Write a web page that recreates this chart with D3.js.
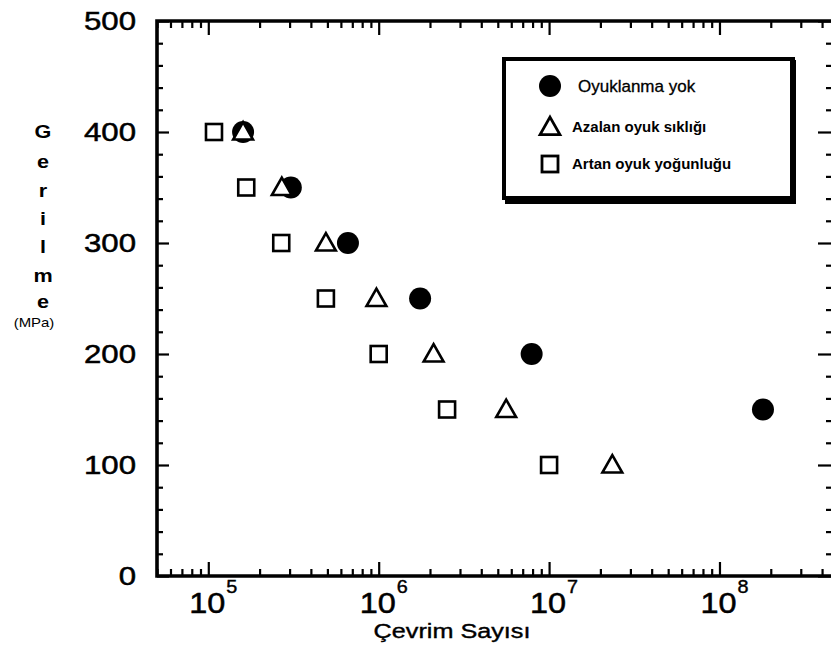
<!DOCTYPE html>
<html>
<head>
<meta charset="utf-8">
<script src="https://cdn.jsdelivr.net/npm/d3@7"></script>
<style>
  html, body { margin: 0; padding: 0; background: #fff; }
  svg { display: block; font-family: "Liberation Sans", Arial, Helvetica, sans-serif; }
</style>
</head>
<body>
<svg id="chart" width="831" height="659"></svg>
<script>
// ---- Data ----
const stressNoPit = [400, 350, 300, 250, 200, 150];
const cyclesNoPit = [1.6e5, 3.05e5, 6.6e5, 1.75e6, 7.9e6, 1.8e8];

const stressDecreasing = [400, 350, 300, 250, 200, 150, 100];
const cyclesDecreasing = [1.6e5, 2.7e5, 4.9e5, 9.7e5, 2.1e6, 5.6e6, 2.35e7];

const stressIncreasing = [400, 350, 300, 250, 200, 150, 100];
const cyclesIncreasing = [1.08e5, 1.67e5, 2.68e5, 4.9e5, 1.0e6, 2.52e6, 1.0e7];

const seriesNames = ["Oyuklanma yok", "Azalan oyuk sıklığı", "Artan oyuk yoğunluğu"];
const xTickExponents = [5, 6, 7, 8];
const yTickValues = [0, 100, 200, 300, 400, 500];
const xDomain = [5e4, 4.7e8];
const yDomain = [0, 500];
const xAxisTitle = "Çevrim Sayısı";
const yAxisTitleLetters = ["G", "e", "r", "i", "l", "m", "e"];
const yAxisUnit = "(MPa)";

// ---- Layout ----
const svg = d3.select("#chart");
const L = 157, R = 834, T = 21, B = 576;

const x = d3.scaleLog().domain(xDomain).range([L, R]);
const y = d3.scaleLinear().domain(yDomain).range([B, T]);

const xMinor = [];
for (let d = 4; d <= 8; d++) for (let k = 2; k <= 9; k++) {
  const v = k * Math.pow(10, d);
  if (v >= xDomain[0] && v <= xDomain[1]) xMinor.push(v);
}
const xMajor = xTickExponents.map(e => Math.pow(10, e));
const yMinor = d3.range(0, 501, 20).filter(v => v % 100 !== 0);

function styleAxis(g) {
  g.select(".domain").remove();
  g.selectAll(".tick line").attr("stroke", "#000").attr("stroke-width", 2.2);
  g.selectAll(".tick text").remove();
}

svg.append("g").attr("transform", `translate(0,${B})`)
  .call(d3.axisBottom(x).tickValues(xMinor).tickSize(-7).tickFormat(""))
  .call(styleAxis);
svg.append("g").attr("transform", `translate(0,${B})`)
  .call(d3.axisBottom(x).tickValues(xMajor).tickSize(-14).tickFormat(""))
  .call(styleAxis);
svg.append("g").attr("transform", `translate(0,${T})`)
  .call(d3.axisTop(x).tickValues(xMinor).tickSize(-7).tickFormat(""))
  .call(styleAxis);
svg.append("g").attr("transform", `translate(0,${T})`)
  .call(d3.axisTop(x).tickValues(xMajor).tickSize(-14).tickFormat(""))
  .call(styleAxis);
svg.append("g").attr("transform", `translate(${L},0)`)
  .call(d3.axisLeft(y).tickValues(yMinor).tickSize(-6).tickFormat(""))
  .call(styleAxis);
svg.append("g").attr("transform", `translate(${L},0)`)
  .call(d3.axisLeft(y).tickValues(yTickValues).tickSize(-12).tickFormat(""))
  .call(styleAxis);
svg.append("g").attr("transform", `translate(${R},0)`)
  .call(d3.axisRight(y).tickValues(yMinor).tickSize(-8).tickFormat(""))
  .call(styleAxis);
svg.append("g").attr("transform", `translate(${R},0)`)
  .call(d3.axisRight(y).tickValues(yTickValues).tickSize(-16).tickFormat(""))
  .call(styleAxis);

svg.append("path")
  .attr("d", `M${R},${T}H${L}V${B}H${R}`)
  .attr("fill", "none").attr("stroke", "#000").attr("stroke-width", 3.6);

// y tick labels
svg.append("g").selectAll("text").data(yTickValues).join("text")
  .attr("transform", d => `translate(136,${y(d) + 9}) scale(1.2,1)`)
  .attr("text-anchor", "end")
  .attr("font-size", 26)
  .attr("fill", "#000").attr("stroke", "#000").attr("stroke-width", 0.5)
  .text(d => d);

// x tick labels: 10^e
const xl = svg.append("g");
xTickExponents.forEach(e => {
  const cx = x(Math.pow(10, e));
  xl.append("text")
    .attr("transform", `translate(${cx - 1},613) scale(1.12,1)`)
    .attr("text-anchor", "middle").attr("font-size", 29)
    .attr("fill", "#000").attr("stroke", "#000").attr("stroke-width", 0.5)
    .text("10");
  xl.append("text")
    .attr("transform", `translate(${cx + 18},593) scale(1.1,1)`)
    .attr("font-size", 18).attr("fill", "#000").attr("stroke", "#000").attr("stroke-width", 0.4)
    .text(e);
});

// axis titles
svg.append("text")
  .attr("transform", "translate(452,638) scale(1.2,1)")
  .attr("text-anchor", "middle").attr("font-size", 21)
  .attr("fill", "#000").attr("stroke", "#000").attr("stroke-width", 0.4)
  .text(xAxisTitle);

const yLetterY = [138, 168, 197, 225, 253, 282, 308];
svg.append("g").selectAll("text").data(yAxisTitleLetters).join("text")
  .attr("transform", (d, i) => `translate(43,${yLetterY[i]}) scale(1.2,1)`)
  .attr("text-anchor", "middle").attr("font-size", 18).attr("font-weight", "bold")
  .attr("fill", "#000")
  .text(d => d);
svg.append("text")
  .attr("transform", "translate(34,327) scale(1.15,1)")
  .attr("text-anchor", "middle").attr("font-size", 13).attr("fill", "#000")
  .text(yAxisUnit);

// ---- Markers ----
const triPath = (cx, cy, s) => `M${cx},${cy - s * 0.55}L${cx + s * 0.55},${cy + s * 0.42}L${cx - s * 0.55},${cy + s * 0.42}Z`;

svg.append("g").selectAll("rect").data(d3.zip(cyclesIncreasing, stressIncreasing)).join("rect")
  .attr("x", d => x(d[0]) - 8).attr("y", d => y(d[1]) - 8)
  .attr("width", 16).attr("height", 16)
  .attr("fill", "none").attr("stroke", "#000").attr("stroke-width", 2.6);

svg.append("g").selectAll("circle").data(d3.zip(cyclesNoPit, stressNoPit)).join("circle")
  .attr("cx", d => x(d[0])).attr("cy", d => y(d[1])).attr("r", 11)
  .attr("fill", "#000");

svg.append("g").selectAll("path").data(d3.zip(cyclesDecreasing, stressDecreasing)).join("path")
  .attr("d", d => triPath(x(d[0]), y(d[1]), 18))
  .attr("fill", "#fff").attr("stroke", "#000").attr("stroke-width", 2.6);

// ---- Legend ----
const lg = svg.append("g");
lg.append("rect").attr("x", 504).attr("y", 59).attr("width", 289).attr("height", 139)
  .attr("fill", "#fff").attr("stroke", "#000").attr("stroke-width", 4);
lg.append("path").attr("d", "M793,60V201H505").attr("fill", "none")
  .attr("stroke", "#000").attr("stroke-width", 6);

lg.append("circle").attr("cx", 550).attr("cy", 86).attr("r", 11).attr("fill", "#000");
lg.append("path").attr("d", triPath(550, 127, 18)).attr("fill", "#fff")
  .attr("stroke", "#000").attr("stroke-width", 2.8);
lg.append("rect").attr("x", 542).attr("y", 156).attr("width", 16).attr("height", 16)
  .attr("fill", "none").attr("stroke", "#000").attr("stroke-width", 2.8);

lg.append("text").attr("x", 578).attr("y", 92).attr("font-size", 17)
  .attr("fill", "#000").attr("stroke", "#000").attr("stroke-width", 0.3)
  .text(seriesNames[0]);
lg.append("text").attr("x", 572).attr("y", 132).attr("font-size", 15).attr("font-weight", "bold").attr("fill", "#000")
  .text(seriesNames[1]);
lg.append("text").attr("x", 572).attr("y", 169).attr("font-size", 15).attr("font-weight", "bold").attr("fill", "#000")
  .text(seriesNames[2]);
</script>
</body>
</html>
